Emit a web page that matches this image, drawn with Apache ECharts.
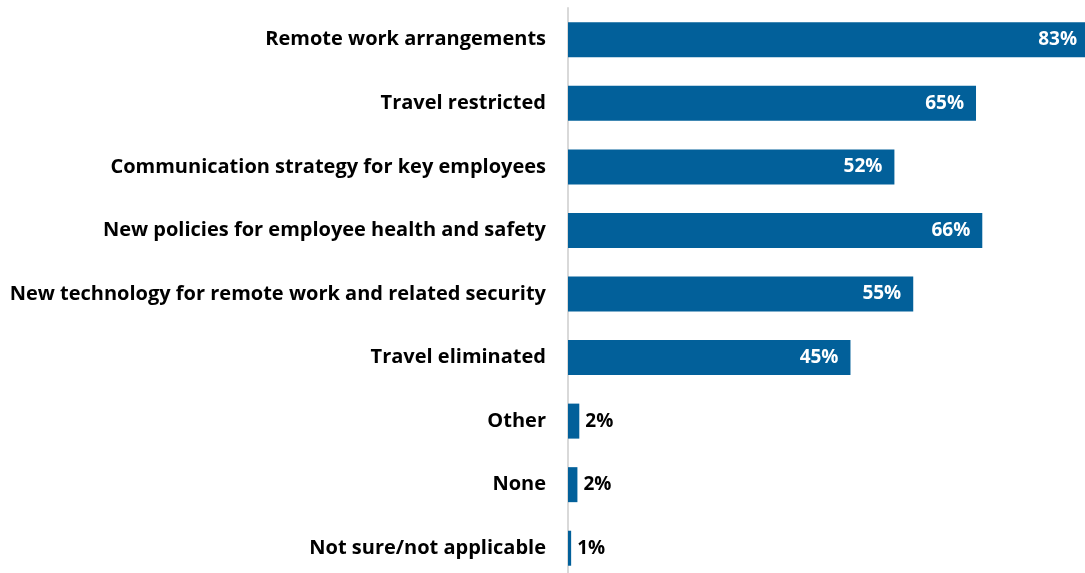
<!DOCTYPE html>
<html>
<head>
<meta charset="utf-8">
<script src="https://cdn.jsdelivr.net/npm/echarts@6/dist/echarts.min.js"></script>
<style>
  html, body { margin: 0; padding: 0; background: #fff; }
  #main { width: 1085px; height: 573px; }
</style>
</head>
<body>
<div id="main"></div>
<script>
var categories = [
    'Remote work arrangements',
    'Travel restricted',
    'Communication strategy for key employees',
    'New policies for employee health and safety',
    'New technology for remote work and related security',
    'Travel eliminated',
    'Other',
    'None',
    'Not sure/not applicable'
];
var values = [83, 65, 52, 66, 55, 45, 1.8, 1.5, 0.5];
var labels = ['83%', '65%', '52%', '66%', '55%', '45%', '2%', '2%', '1%'];

var chartDom = document.getElementById('main');
var myChart = echarts.init(chartDom);
var option;

var barData = values.map(function (v, i) {
    var small = v < 10;
    return {
        value: v,
        label: {
            show: true,
            position: small ? 'right' : 'insideRight',
            distance: small ? 6 : 12,
            color: small ? '#000' : '#fff',
            fontFamily: 'Open Sans',
            fontWeight: 'bold',
            fontSize: 19,
            formatter: labels[i]
        }
    };
});

option = {
    animation: false,
    grid: {
        left: 568,
        width: 521,
        top: 8,
        height: 572,
        outerBoundsMode: 'none',
        containLabel: false
    },
    xAxis: {
        type: 'value',
        min: 0,
        max: 83,
        show: false
    },
    yAxis: {
        type: 'category',
        inverse: true,
        data: categories,
        axisLine: { show: true, lineStyle: { color: '#d9d9d9', width: 2 } },
        axisTick: { show: false },
        axisLabel: {
            margin: 22,
            color: '#000',
            fontFamily: 'Open Sans',
            fontWeight: 'bold',
            fontSize: 20
        }
    },
    series: [
        {
            type: 'bar',
            barWidth: 35,
            itemStyle: { color: '#02609a' },
            data: barData
        }
    ]
};

option && myChart.setOption(option);
</script>
</body>
</html>
